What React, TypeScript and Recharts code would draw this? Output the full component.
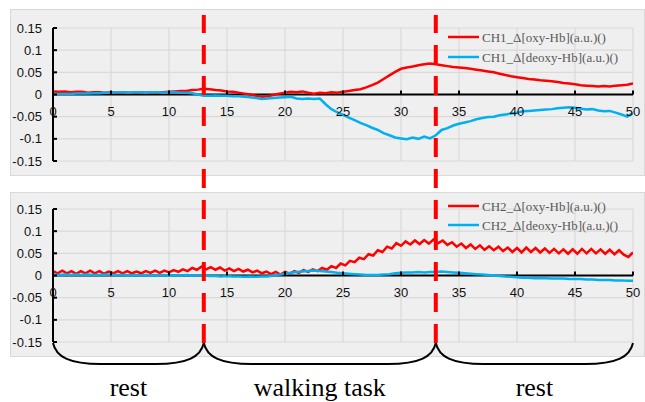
import React from 'react';
import {
  LineChart,
  Line,
  XAxis,
  YAxis,
  CartesianGrid,
  ReferenceLine,
  ReferenceDot,
  ReferenceArea,
  Legend,
} from 'recharts';

// ---------- data ----------
// CH1 / CH2 deoxy & CH1 oxy sampled every 0.5 s, CH2 oxy every 0.4 s
const STEP_A = 0.5;
const STEP_B = 0.4;

const ch1Oxy = [
  0.007, 0.006, 0.007, 0.005, 0.006, 0.006, 0.004, 0.005, 0.005, 0.004,
  0.005, 0.004, 0.005, 0.004, 0.004, 0.005, 0.004, 0.005, 0.004, 0.005,
  0.006, 0.007, 0.008, 0.008, 0.010, 0.011, 0.013, 0.012, 0.010, 0.009,
  0.007, 0.006, 0.004, 0.002, 0.000, -0.003, -0.005, -0.004, -0.001, 0.002,
  0.004, 0.006, 0.005, 0.007, 0.004, 0.002, 0.004, 0.003, 0.005, 0.004,
  0.006, 0.008, 0.010, 0.012, 0.016, 0.021, 0.027, 0.035, 0.043, 0.051,
  0.058, 0.061, 0.063, 0.066, 0.068, 0.070, 0.068, 0.066, 0.064, 0.062,
  0.061, 0.060, 0.058, 0.056, 0.054, 0.052, 0.050, 0.047, 0.044, 0.041,
  0.039, 0.037, 0.035, 0.034, 0.032, 0.031, 0.030, 0.028, 0.026, 0.025,
  0.023, 0.021, 0.020, 0.019, 0.018, 0.019, 0.018, 0.020, 0.021, 0.022,
  0.025,
];

const ch1Deoxy = [
  0.000, 0.001, 0.001, 0.001, 0.002, 0.002, 0.002, 0.003, 0.003, 0.004,
  0.004, 0.005, 0.005, 0.004, 0.005, 0.005, 0.004, 0.005, 0.005, 0.004,
  0.005, 0.005, 0.004, 0.004, 0.003, 0.000, -0.003, -0.003, -0.002, -0.003,
  -0.003, -0.004, -0.004, -0.005, -0.006, -0.008, -0.010, -0.009, -0.008, -0.007,
  -0.006, -0.005, -0.009, -0.010, -0.009, -0.010, -0.009, -0.022, -0.033, -0.040,
  -0.046, -0.052, -0.058, -0.064, -0.069, -0.075, -0.080, -0.087, -0.092, -0.097,
  -0.099, -0.101, -0.097, -0.100, -0.095, -0.099, -0.092, -0.080, -0.076, -0.070,
  -0.066, -0.063, -0.060, -0.056, -0.053, -0.051, -0.050, -0.047, -0.045, -0.043,
  -0.041, -0.038, -0.037, -0.036, -0.035, -0.034, -0.033, -0.031, -0.030, -0.029,
  -0.030, -0.032, -0.034, -0.033, -0.036, -0.038, -0.037, -0.041, -0.045, -0.050,
  -0.042,
];

const ch2Oxy = [
  0.010, 0.005, 0.011, 0.005, 0.010, 0.004, 0.010, 0.005, 0.011, 0.005,
  0.010, 0.004, 0.009, 0.005, 0.010, 0.005, 0.010, 0.005, 0.009, 0.005,
  0.010, 0.006, 0.011, 0.006, 0.011, 0.007, 0.012, 0.008, 0.014, 0.010,
  0.017, 0.013, 0.020, 0.014, 0.019, 0.013, 0.018, 0.011, 0.016, 0.010,
  0.015, 0.009, 0.013, 0.007, 0.011, 0.005, 0.009, 0.003, 0.008, 0.002,
  0.008, 0.004, 0.010, 0.006, 0.012, 0.008, 0.014, 0.010, 0.017, 0.013,
  0.021, 0.017, 0.027, 0.023, 0.033, 0.030, 0.040, 0.037, 0.048, 0.045,
  0.057, 0.053, 0.065, 0.061, 0.073, 0.067, 0.077, 0.070, 0.079, 0.071,
  0.080, 0.072, 0.081, 0.073, 0.079, 0.069, 0.075, 0.065, 0.072, 0.062,
  0.070, 0.060, 0.068, 0.058, 0.066, 0.057, 0.065, 0.055, 0.063, 0.053,
  0.062, 0.052, 0.063, 0.053, 0.062, 0.052, 0.061, 0.051, 0.060, 0.050,
  0.059, 0.049, 0.059, 0.049, 0.060, 0.050, 0.060, 0.050, 0.059, 0.049,
  0.058, 0.048, 0.057, 0.047, 0.042, 0.052,
];

const ch2Deoxy = [
  0.002, 0.001, 0.002, 0.001, 0.002, 0.001, 0.002, 0.001, 0.001, 0.002,
  0.001, 0.001, 0.001, 0.000, 0.001, 0.000, 0.001, 0.000, 0.000, 0.001,
  0.000, 0.000, 0.000, 0.001, 0.000, 0.000, 0.000, -0.001, -0.001, -0.002,
  -0.001, -0.002, -0.002, -0.003, -0.002, -0.003, -0.002, -0.002, 0.000, 0.002,
  0.004, 0.006, 0.008, 0.009, 0.010, 0.011, 0.010, 0.009, 0.008, 0.006,
  0.005, 0.004, 0.003, 0.002, 0.001, 0.001, 0.001, 0.002, 0.003, 0.005,
  0.006, 0.007, 0.007, 0.008, 0.007, 0.008, 0.008, 0.009, 0.008, 0.007,
  0.006, 0.005, 0.004, 0.003, 0.002, 0.001, 0.000, -0.001, -0.002, -0.003,
  -0.004, -0.005, -0.005, -0.006, -0.006, -0.006, -0.007, -0.007, -0.007, -0.008,
  -0.008, -0.008, -0.009, -0.009, -0.010, -0.010, -0.010, -0.011, -0.011, -0.012,
  -0.012,
];

const xTicks = [0, 5, 10, 15, 20, 25, 30, 35, 40, 45, 50];
const yTicks = [-0.15, -0.1, -0.05, 0, 0.05, 0.1, 0.15];
const phaseBounds = [0, 13, 33, 50];
const phaseLabels = ['rest', 'walking task', 'rest'];
const ch1Names = ['CH1_\u0394[oxy-Hb](a.u.)()', 'CH1_\u0394[deoxy-Hb](a.u.)()'];
const ch2Names = ['CH2_\u0394[oxy-Hb](a.u.)()', 'CH2_\u0394[deoxy-Hb](a.u.)()'];

const OXY_COLOR = '#ff0000';
const DEOXY_COLOR = '#00b0f0';

const toRows = (vals: number[], step: number) =>
  vals.map((v, i) => ({ t: Math.round(i * step * 100) / 100, v }));

const SANS = '"Liberation Sans", Arial, sans-serif';
const SERIF = '"Liberation Serif", "Times New Roman", serif';

// ---------- pieces ----------
const XTickMark = (props: any) => {
  const { cx, cy, label } = props;
  return (
    <g>
      <line x1={cx} y1={cy} x2={cx} y2={cy - 4} stroke="#000" strokeWidth={2} />
      <text x={cx} y={cy + 21} textAnchor="middle" fontSize={13} fontFamily={SANS} fill="#111">
        {label}
      </text>
    </g>
  );
};

const makeLegend = (rowH: number, order: string[]) => (props: any) => {
  const payload = [...(props.payload || [])].sort(
    (a: any, b: any) => order.indexOf(a.value) - order.indexOf(b.value)
  );
  return (
    <div>
      {payload.map((p: any, i: number) => (
        <div key={i} style={{ display: 'flex', alignItems: 'center', height: rowH }}>
          <svg width={31} height={6} style={{ display: 'block' }}>
            <line x1={0} y1={3} x2={31} y2={3} stroke={p.color} strokeWidth={2.5} />
          </svg>
          <span
            style={{
              marginLeft: 3,
              fontFamily: SERIF,
              fontSize: 13,
              color: '#595959',
              whiteSpace: 'nowrap',
              lineHeight: 1,
            }}
          >
            {p.value}
          </span>
        </div>
      ))}
    </div>
  );
};

type PanelProps = {
  top: number;
  height: number;
  marginTop: number;
  marginBottom: number;
  oxy: { t: number; v: number }[];
  deoxy: { t: number; v: number }[];
  names: string[];
  legendTop: number;
  rowH: number;
};

const Panel = ({ top, height, marginTop, marginBottom, oxy, deoxy, names, legendTop, rowH }: PanelProps) => (
  <>
    <div
      style={{
        position: 'absolute',
        left: 10,
        top,
        width: 635,
        height,
        background: '#efefef',
        border: '1px solid #d9d9d9',
        boxSizing: 'border-box',
      }}
    />
    <div style={{ position: 'absolute', left: 10, top }}>
      <LineChart
        width={635}
        height={height}
        margin={{ top: marginTop, right: 12, bottom: marginBottom, left: 13 }}
      >
        <CartesianGrid stroke="#d9d9d9" strokeWidth={1.2} />
        <XAxis
          type="number"
          dataKey="t"
          domain={[0, 50]}
          ticks={xTicks}
          allowDataOverflow
          hide
        />
        <YAxis
          type="number"
          domain={[-0.15, 0.15]}
          ticks={yTicks}
          interval={0}
          width={30}
          allowDataOverflow
          axisLine={{ stroke: '#000', strokeWidth: 2 }}
          tickLine={{ stroke: '#000', strokeWidth: 2 }}
          tickSize={-4}
          tickMargin={15}
          tick={{ fill: '#111', fontSize: 13, fontFamily: SANS }}
          tickFormatter={(v: number) => String(v)}
        />
        <ReferenceLine y={0} stroke="#000" strokeWidth={2} />
        {xTicks.map((t) => (
          <ReferenceDot
            key={t}
            x={t}
            y={0}
            r={0}
            shape={(p: any) => <XTickMark {...p} label={t} />}
          />
        ))}
        <Line
          data={oxy}
          dataKey="v"
          name={names[0]}
          type="linear"
          stroke={OXY_COLOR}
          strokeWidth={2.5}
          dot={false}
          isAnimationActive={false}
        />
        <Line
          data={deoxy}
          dataKey="v"
          name={names[1]}
          type="linear"
          stroke={DEOXY_COLOR}
          strokeWidth={2.5}
          dot={false}
          isAnimationActive={false}
        />
        <Legend
          layout="vertical"
          align="center"
          verticalAlign="middle"
          wrapperStyle={{ left: 438, top: legendTop, width: 195 }}
          content={makeLegend(rowH, names)}
        />
      </LineChart>
    </div>
  </>
);

const Brace = (props: any) => {
  const { x, y, width, height, label } = props;
  const y0 = y + height;
  const d = 21;
  const x1 = x;
  const x2 = x + width;
  const c = 48;
  const path = `M ${x1} ${y0} C ${x1 + 3} ${y0 + d * 0.65}, ${x1 + 16} ${y0 + d}, ${x1 + c} ${y0 + d} L ${x2 - c} ${y0 + d} C ${x2 - 16} ${y0 + d}, ${x2 - 3} ${y0 + d * 0.65}, ${x2} ${y0}`;
  return (
    <g>
      <path d={path} fill="none" stroke="#000" strokeWidth={2} />
      <text
        x={x1 + width / 2}
        y={y0 + 53}
        textAnchor="middle"
        fontFamily={SERIF}
        fontSize={26}
        fill="#000"
      >
        {label}
      </text>
    </g>
  );
};

export default function App() {
  const ch1OxyRows = toRows(ch1Oxy, STEP_A);
  const ch1DeoxyRows = toRows(ch1Deoxy, STEP_A);
  const ch2OxyRows = toRows(ch2Oxy, STEP_B);
  const ch2DeoxyRows = toRows(ch2Deoxy, STEP_A);
  const overlayRows = phaseBounds.map((t) => ({ t, v: 0.5 }));

  return (
    <div
      style={{
        position: 'absolute',
        left: 0,
        top: 0,
        width: 645,
        height: 402,
        background: '#ffffff',
        overflow: 'hidden',
      }}
    >
      <Panel
        top={9}
        height={167}
        marginTop={19}
        marginBottom={15}
        oxy={ch1OxyRows}
        deoxy={ch1DeoxyRows}
        names={ch1Names}
        legendTop={18}
        rowH={20}
      />
      <Panel
        top={192}
        height={165}
        marginTop={17}
        marginBottom={15}
        oxy={ch2OxyRows}
        deoxy={ch2DeoxyRows}
        names={ch2Names}
        legendTop={4.5}
        rowH={19}
      />
      <div style={{ position: 'absolute', left: 0, top: 0, pointerEvents: 'none' }}>
        <LineChart
          width={645}
          height={402}
          data={overlayRows}
          margin={{ top: 15, right: 12, bottom: 59, left: 53 }}
        >
          <XAxis type="number" dataKey="t" domain={[0, 50]} allowDataOverflow hide />
          <YAxis type="number" domain={[0, 1]} allowDataOverflow hide />
          {phaseLabels.map((lab, i) => (
            <ReferenceArea
              key={'a' + i}
              x1={phaseBounds[i]}
              x2={phaseBounds[i + 1]}
              shape={(p: any) => <Brace {...p} label={lab} />}
            />
          ))}
          {phaseBounds.slice(1, -1).map((b) => (
            <ReferenceLine
              key={'l' + b}
              x={b}
              stroke="#ff0000"
              strokeWidth={4}
              strokeDasharray="19 12"
            />
          ))}
        </LineChart>
      </div>
    </div>
  );
}
